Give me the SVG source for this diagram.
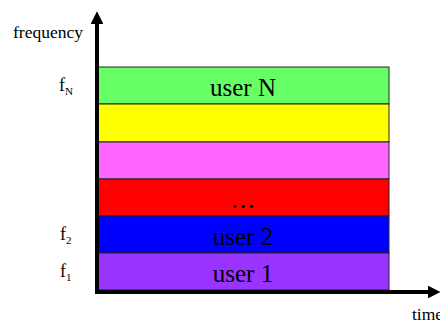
<svg xmlns="http://www.w3.org/2000/svg" width="440" height="322" viewBox="0 0 440 322">
  <style>
    .band { stroke: #222; stroke-width: 1; }
    .lbl { font-family: "Liberation Serif", "Times New Roman", serif; fill: #000; }
    .user { font-size: 25px; text-anchor: middle; }
    .axis { stroke: #000; stroke-width: 4; fill: none; }
    .f { font-size: 18px; }
    .sub { font-size: 11px; }
  </style>
  <defs>
    <marker id="arrow" viewBox="0 0 12 12" refX="2" refY="6" markerWidth="3.2" markerHeight="3.2" orient="auto" markerUnits="strokeWidth">
      <path d="M0,0 L12,6 L0,12 Z" fill="#000"/>
    </marker>
  </defs>

  <!-- frequency bands, one per user -->
  <g id="band-N">
    <rect class="band" x="98" y="67" width="291" height="37" fill="#66FF66"/>
    <text class="lbl user" x="243" y="96">user N</text>
  </g>
  <g id="band-yellow">
    <rect class="band" x="98" y="104" width="291" height="38" fill="#FFFF00"/>
  </g>
  <g id="band-magenta">
    <rect class="band" x="98" y="142" width="291" height="37" fill="#FF66FF"/>
  </g>
  <g id="band-dots">
    <rect class="band" x="98" y="179" width="291" height="37" fill="#FF0000"/>
    <text class="lbl user" x="243" y="208">…</text>
  </g>
  <g id="band-2">
    <rect class="band" x="98" y="216" width="291" height="37" fill="#0000FF"/>
    <text class="lbl user" x="243" y="245">user 2</text>
  </g>
  <g id="band-1">
    <rect class="band" x="98" y="253" width="291" height="37" fill="#9933FF"/>
    <text class="lbl user" x="243" y="282">user 1</text>
  </g>

  <!-- axes -->
  <g id="connectors">
    <path class="axis" d="M97,292 L97,22" marker-end="url(#arrow)"/>
    <path class="axis" d="M95,292 L430,292" marker-end="url(#arrow)"/>
  </g>

  <!-- axis labels -->
  <g id="labels">
    <text class="lbl" x="13" y="38" font-size="17.5">frequency</text>
    <text class="lbl" x="412" y="320" font-size="17.5">time</text>
    <text class="lbl f" x="59" y="91">f<tspan class="sub" dy="4">N</tspan></text>
    <text class="lbl f" x="60" y="240">f<tspan class="sub" dy="4">2</tspan></text>
    <text class="lbl f" x="60" y="277">f<tspan class="sub" dy="4">1</tspan></text>
  </g>
</svg>
